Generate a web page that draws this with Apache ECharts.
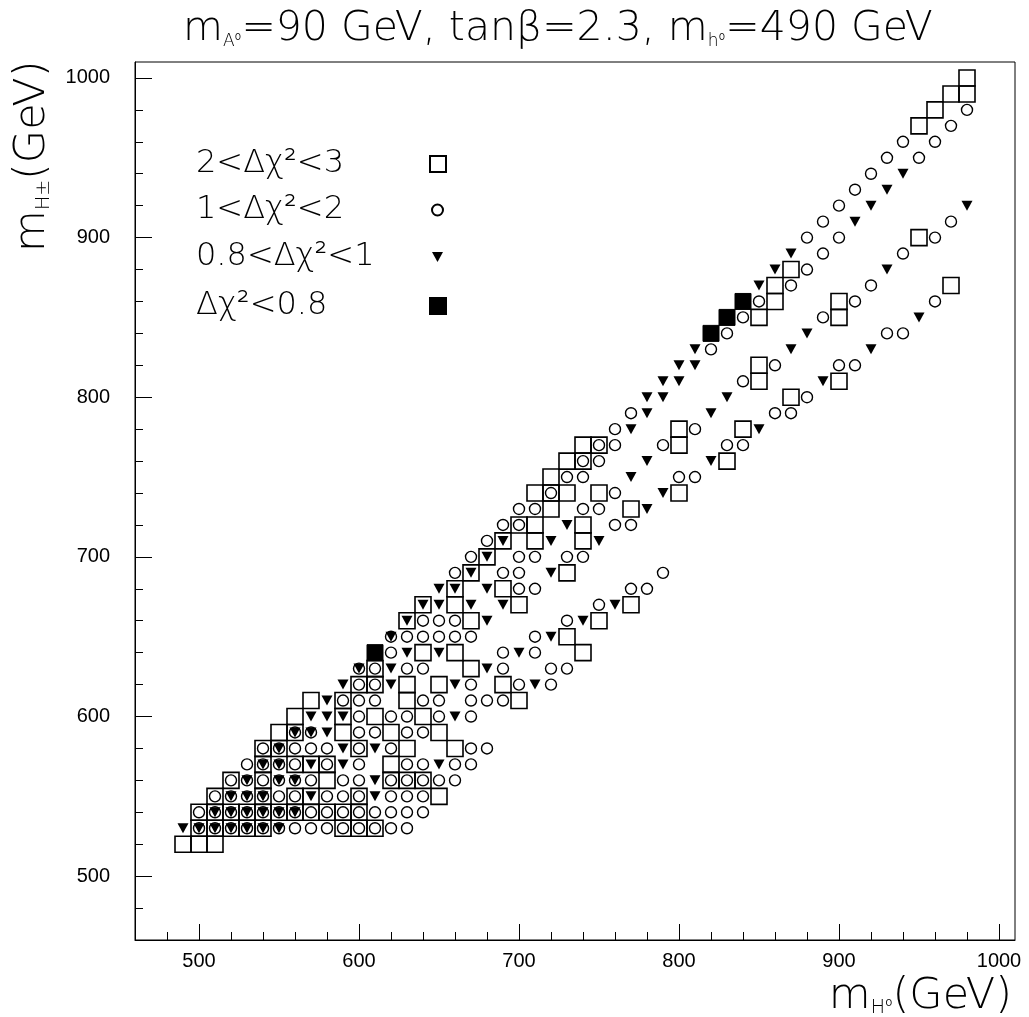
<!DOCTYPE html>
<html><head><meta charset="utf-8">
<script src="https://cdn.jsdelivr.net/npm/echarts@6/dist/echarts.min.js"></script>
<style>html,body{margin:0;padding:0;background:#fff}#c{width:1029px;height:1017px}</style>
</head><body><div id="c"></div>
<script>
// ---- axis ticks ----
const xTickLabels = [500, 600, 700, 800, 900, 1000];
const yTickLabels = [500, 600, 700, 800, 900, 1000];
const xMinorTicks = [480,520,540,560,580,620,640,660,680,720,740,760,780,820,840,860,880,920,940,960,980];
const yMinorTicks = [480,520,540,560,580,620,640,660,680,720,740,760,780,820,840,860,880,920,940,960,980];

// ---- series names ----
const seriesNames = ['2<Δχ²<3', '1<Δχ²<2', '0.8<Δχ²<1', 'Δχ²<0.8'];

// ---- data [mH0, mH±] ----
const openSquares = [
 [490,520],[500,520],[510,520],
 [500,530],[510,530],[520,530],[530,530],[540,530],[590,530],[600,530],[610,530],
 [500,540],[510,540],[520,540],[530,540],[540,540],[550,540],[560,540],[570,540],[580,540],[590,540],[600,540],
 [510,550],[540,550],[560,550],[570,550],[600,550],[650,550],
 [520,560],[540,560],[580,560],[620,560],[630,560],[640,560],
 [540,570],[560,570],[570,570],[580,570],[620,570],
 [540,580],[550,580],[600,580],[630,580],[660,580],
 [550,590],[560,590],[590,590],[620,590],[650,590],
 [560,600],[590,600],[610,600],[640,600],
 [570,610],[590,610],[630,610],[700,610],
 [600,620],[610,620],[630,620],[650,620],[690,620],
 [610,630],[670,630],
 [640,640],[660,640],[740,640],
 [730,650],
 [630,660],[670,660],[750,660],
 [640,670],[660,670],[700,670],[770,670],
 [660,680],[690,680],
 [670,690],[730,690],
 [680,700],
 [690,710],[710,710],[740,710],
 [700,720],[710,720],[740,720],
 [720,730],[770,730],
 [710,740],[720,740],[730,740],[750,740],[800,740],
 [720,750],
 [730,760],[740,760],[830,760],
 [740,770],[750,770],[800,770],
 [800,780],[840,780],
 [870,800],
 [850,810],[900,810],
 [850,820],
 [850,850],[900,850],
 [860,860],[900,860],
 [860,870],[970,870],
 [870,880],
 [950,900],
 [950,970],
 [960,980],
 [970,990],[980,990],
 [980,1000]
];

const circles = [
 [500,530],[510,530],[520,530],[530,530],[540,530],[550,530],[560,530],[570,530],[580,530],[590,530],[600,530],[610,530],[620,530],[630,530],
 [500,540],[510,540],[520,540],[530,540],[540,540],[550,540],[560,540],[570,540],[580,540],[590,540],[600,540],[610,540],[620,540],[630,540],[640,540],
 [510,550],[520,550],[530,550],[540,550],[550,550],[560,550],[580,550],[590,550],[600,550],[620,550],[630,550],[640,550],
 [520,560],[530,560],[540,560],[550,560],[560,560],[570,560],[590,560],[600,560],[620,560],[630,560],[640,560],[650,560],[660,560],
 [530,570],[540,570],[550,570],[560,570],[580,570],[600,570],[630,570],[640,570],[660,570],[670,570],
 [540,580],[550,580],[560,580],[570,580],[580,580],[600,580],[620,580],[670,580],[680,580],
 [560,590],[570,590],[600,590],[610,590],[630,590],[640,590],
 [600,600],[620,600],[630,600],[650,600],[670,600],
 [590,610],[600,610],[610,610],[640,610],[650,610],[670,610],[680,610],[690,610],
 [600,620],[610,620],[670,620],[700,620],[720,620],
 [600,630],[610,630],[630,630],[640,630],[690,630],[720,630],[730,630],
 [620,640],[690,640],[710,640],
 [620,650],[630,650],[640,650],[650,650],[660,650],[670,650],[710,650],
 [640,660],[650,660],[660,660],[730,660],
 [750,670],
 [700,680],[710,680],[770,680],[780,680],
 [660,690],[690,690],[700,690],[790,690],
 [670,700],[700,700],[710,700],[730,700],[740,700],
 [680,710],
 [690,720],[700,720],[760,720],[770,720],
 [700,730],[710,730],[740,730],[750,730],
 [720,740],[760,740],
 [730,750],[740,750],[800,750],[810,750],
 [740,760],[750,760],
 [750,770],[760,770],[790,770],[830,770],[840,770],
 [760,780],[810,780],
 [770,790],[860,790],[870,790],
 [880,800],
 [840,810],
 [860,820],[900,820],[910,820],
 [820,830],
 [830,840],[930,840],[940,840],
 [840,850],[890,850],
 [850,860],[910,860],[960,860],
 [870,870],[920,870],
 [880,880],
 [890,890],[940,890],
 [880,900],[900,900],[960,900],
 [890,910],[970,910],
 [900,920],
 [910,930],
 [920,940],
 [930,950],[950,950],
 [940,960],[960,960],
 [970,970],
 [980,980]
];

const triangles = [
 [490,530],[500,530],[510,530],[520,530],[530,530],[540,530],[550,530],
 [510,540],[520,540],[530,540],[540,540],[550,540],[560,540],
 [520,550],[530,550],[540,550],[570,550],[610,550],
 [530,560],[550,560],[560,560],[610,560],
 [540,570],[550,570],[570,570],[590,570],[650,570],
 [550,580],[590,580],[610,580],
 [560,590],[570,590],[580,590],
 [570,600],[580,600],[590,600],[660,600],
 [580,610],
 [590,620],[620,620],[660,620],[710,620],
 [600,630],[620,630],[680,630],
 [630,640],[650,640],[700,640],
 [620,650],[720,650],
 [630,660],[680,660],[740,660],
 [640,670],[650,670],[670,670],[690,670],[760,670],
 [650,680],[660,680],[680,680],
 [670,690],[720,690],
 [680,700],
 [690,710],[720,710],[750,710],
 [730,720],
 [780,730],
 [790,740],
 [770,750],
 [780,760],[820,760],
 [770,780],[850,780],
 [780,790],[820,790],
 [780,800],[790,800],[830,800],
 [790,810],[800,810],[890,810],
 [800,820],[810,820],
 [810,830],[870,830],[920,830],
 [880,840],
 [950,850],
 [850,870],
 [860,880],[930,880],
 [870,890],
 [910,910],
 [920,920],[980,920],
 [930,930],
 [940,940]
];

const filledSquares = [[610,640],[820,840],[830,850],[840,860]];

const FONT = 'Liberation Sans';
const TFONT = 'DejaVu Sans';
const downTri = 'path://M0,0L10,0L5,9Z';

const chart = echarts.init(document.getElementById('c'), null, {renderer: 'canvas'});

function legendFor(name, top, w, h, textW) {
  return {
    data: [name], left: 196, top: top, padding: 0, itemGap: 0,
    orient: 'vertical', align: 'right', selectedMode: false,
    itemWidth: w, itemHeight: h,
    formatter: n => '{a|' + n + '}',
    textStyle: { rich: { a: { width: textW, align: 'left', fontSize: 32, fontFamily: TFONT, fontWeight: 200, color: '#000', lineHeight: 38 } } }
  };
}

function makeRich(big, small) {
  return {
    m: { fontSize: big, fontFamily: TFONT, fontWeight: 200, lineHeight: big + 8, verticalAlign: 'bottom', color: '#000' },
    s: { fontSize: small, fontFamily: TFONT, fontWeight: 200, lineHeight: small, verticalAlign: 'bottom', color: '#000' },
    t: { fontSize: big, fontFamily: TFONT, fontWeight: 200, lineHeight: big + 8, verticalAlign: 'bottom', color: '#000' }
  };
}

const option = {
  animation: false,
  backgroundColor: '#fff',
  title: {
    text: '{m|m}{s|A⁰}{t|=90 GeV, tanβ=2.3, }{m|m}{s|h⁰}{t|=490 GeV}',
    left: 183, top: 1, padding: 0,
    textStyle: { rich: makeRich(41, 17) }
  },
  grid: { left: 135, top: 62, width: 880, height: 878, show: true, borderColor: '#000', borderWidth: 1, containLabel: false, outerBoundsMode: 'none' },
  legend: [
    legendFor(seriesNames[0], 148, 16, 16, 229),
    legendFor(seriesNames[1], 194, 11, 11, 231),
    legendFor(seriesNames[2], 241, 11, 10, 231),
    legendFor(seriesNames[3], 290, 16, 16, 229)
  ],
  xAxis: [
    { type: 'value', min: 460, max: 1010, position: 'bottom',
      axisLine: { show: true, onZero: false, lineStyle: { color: '#000', width: 1 } },
      axisTick: { show: true, inside: true, length: 16, customValues: xTickLabels, lineStyle: { color: '#000', width: 1 } },
      axisLabel: { customValues: xTickLabels, formatter: v => String(v), margin: 11, fontSize: 20, fontFamily: FONT, color: '#000' },
      splitLine: { show: false } },
    { type: 'value', min: 460, max: 1010, position: 'bottom',
      axisLine: { show: false },
      axisTick: { show: true, inside: true, length: 8, customValues: xMinorTicks, lineStyle: { color: '#000', width: 1 } },
      axisLabel: { show: false }, splitLine: { show: false } }
  ],
  yAxis: [
    { type: 'value', min: 460, max: 1010, position: 'left',
      axisLine: { show: true, onZero: false, lineStyle: { color: '#000', width: 1 } },
      axisTick: { show: true, inside: true, length: 17, customValues: yTickLabels, lineStyle: { color: '#000', width: 1 } },
      axisLabel: { customValues: yTickLabels, formatter: v => String(v), margin: 25, fontSize: 20, fontFamily: FONT, color: '#000' },
      splitLine: { show: false } },
    { type: 'value', min: 460, max: 1010, position: 'left',
      axisLine: { show: false },
      axisTick: { show: true, inside: true, length: 8, customValues: yMinorTicks, lineStyle: { color: '#000', width: 1 } },
      axisLabel: { show: false }, splitLine: { show: false } }
  ],
  series: [
    { name: seriesNames[0], type: 'scatter', data: openSquares, symbol: 'rect', symbolSize: 16,
      itemStyle: { color: 'rgba(0,0,0,0)', borderColor: '#000', borderWidth: 1.6, opacity: 1 } },
    { name: seriesNames[1], type: 'scatter', data: circles, symbol: 'circle', symbolSize: 11,
      itemStyle: { color: 'rgba(0,0,0,0)', borderColor: '#000', borderWidth: 1.4, opacity: 1 } },
    { name: seriesNames[2], type: 'scatter', data: triangles, symbol: downTri, symbolSize: [11, 10],
      itemStyle: { color: '#000', borderWidth: 0, opacity: 1 } },
    { name: seriesNames[3], type: 'scatter', data: filledSquares, symbol: 'rect', symbolSize: 16,
      itemStyle: { color: '#000', borderColor: '#000', borderWidth: 1, opacity: 1 } }
  ],
  graphic: [
    { type: 'text', x: 54, y: 252, rotation: Math.PI / 2,
      style: { text: '{m|m}{s|H±}{t|(GeV)}', align: 'left', verticalAlign: 'bottom', rich: makeRich(43, 19) } },
    { type: 'text', x: 1012, y: 1018,
      style: { text: '{m|m}{s|H⁰}{t|(GeV)}', align: 'right', verticalAlign: 'bottom', rich: makeRich(43, 19) } }
  ]
};
chart.setOption(option);
</script>
</body></html>
